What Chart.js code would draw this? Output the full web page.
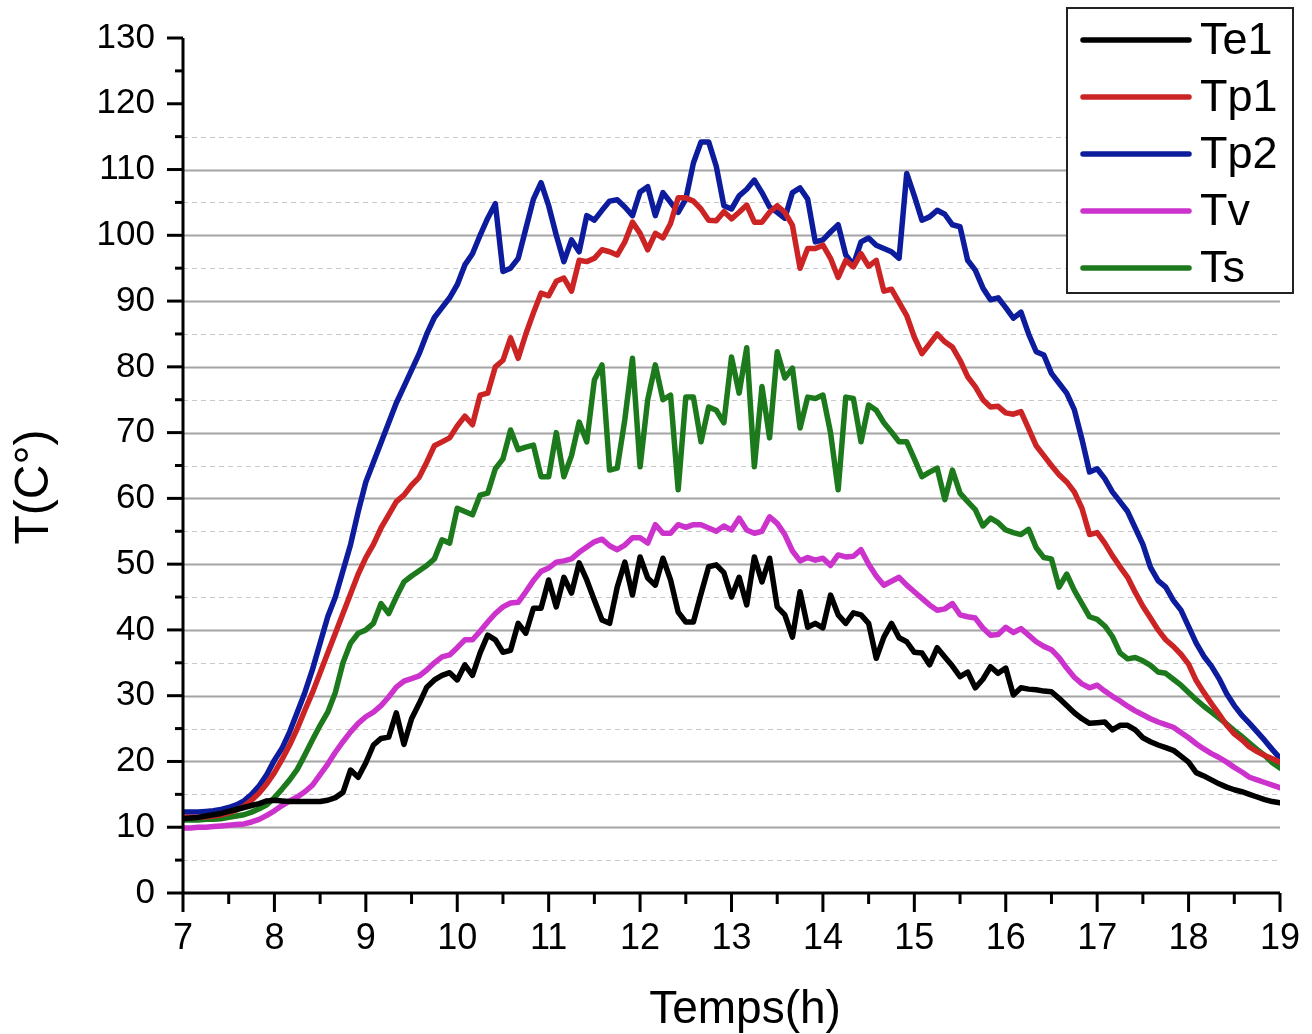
<!DOCTYPE html>
<html>
<head>
<meta charset="utf-8">
<title>T(C°) vs Temps(h)</title>
<script src="https://cdn.jsdelivr.net/npm/chart.js@4.4.1/dist/chart.umd.min.js"></script>
<style>
  html, body { margin: 0; padding: 0; background: #fff; }
  #wrap { width: 1312px; height: 1034px; }
</style>
</head>
<body>
<div id="wrap"><canvas id="tempChart" width="1312" height="1034"></canvas></div>
<script>
// --- Data (one reading every 5 min, 7h -> 19h) ---
const times = [];
for (let m = 0; m <= 720; m += 5) times.push(7 + m / 60);

const te1 = [
  11.3, 11.4, 11.5, 11.7, 11.9, 12.1, 12.4, 12.7, 13.0, 13.3, 13.6, 14.0,
  14.1, 14.0, 13.9, 13.9, 13.9, 13.9, 13.9, 14.1, 14.5, 15.3, 18.7, 17.6,
  19.8, 22.5, 23.5, 23.7, 27.4, 22.6, 26.5, 28.8, 31.3, 32.4, 33.1, 33.5,
  32.4, 34.7, 33.1, 36.5, 39.2, 38.5, 36.6, 36.9, 41.0, 39.5, 43.3, 43.3,
  47.6, 43.5, 48.0, 45.6, 50.2, 47.6, 44.5, 41.5, 41.0, 46.5, 50.3, 45.3,
  51.1, 47.9, 46.8, 50.9, 47.6, 42.7, 41.2, 41.2, 45.5, 49.6, 49.9, 48.7,
  45.0, 48.0, 43.8, 51.1, 47.3, 50.9, 43.5, 42.3, 38.9, 45.8, 40.4, 41.0,
  40.3, 45.3, 42.3, 41.0, 42.6, 42.3, 41.0, 35.7, 38.9, 41.0, 38.8, 38.2,
  36.6, 36.5, 34.7, 37.3, 35.9, 34.5, 32.9, 33.6, 31.2, 32.5, 34.4, 33.4,
  34.2, 30.1, 31.2, 31.0, 30.9, 30.7, 30.6, 29.6, 28.5, 27.4, 26.5, 25.8,
  25.9, 26.0, 24.8, 25.5, 25.5, 24.8, 23.6, 23.0, 22.5, 22.1, 21.7, 20.8,
  19.9, 18.3, 17.8, 17.2, 16.6, 16.1, 15.7, 15.4, 15.0, 14.6, 14.2, 13.9,
  13.7
];

const tp1 = [
  11.5, 11.5, 11.5, 11.6, 11.7, 11.9, 12.2, 12.6, 13.2, 14.1, 15.2, 16.6,
  18.3, 20.3, 22.5, 25.0, 27.8, 30.5, 33.5, 36.5, 39.5, 42.5, 45.5, 48.5,
  51.0, 53.0, 55.5, 57.5, 59.5, 60.5, 62.0, 63.2, 65.5, 68.0, 68.6, 69.2,
  71.0, 72.5, 71.2, 75.7, 76.0, 80.0, 81.0, 84.4, 81.3, 85.0, 88.2, 91.2,
  90.8, 93.0, 93.5, 91.5, 96.2, 96.0, 96.5, 97.8, 97.5, 97.0, 99.0, 102.0,
  100.3, 97.8, 100.3, 99.6, 101.8, 105.7, 105.7, 105.2, 104.0, 102.3, 102.2, 103.6,
  102.5, 103.5, 104.6, 102.0, 102.0, 103.5, 104.5, 103.5, 101.5, 95.0, 98.0, 98.0,
  98.5, 96.5, 93.6, 96.2, 95.2, 97.2, 95.3, 96.2, 91.5, 91.8, 89.8, 87.8,
  84.5, 82.0, 83.5, 85.0, 83.8, 83.0, 81.0, 78.5, 77.0, 75.0, 73.9, 74.0,
  73.0, 72.8, 73.2, 70.6, 68.0, 66.5, 65.0, 63.6, 62.5, 61.0, 58.5, 54.5,
  54.8, 53.2, 51.3, 49.6, 48.0, 45.7, 43.6, 41.8, 40.0, 38.5, 37.5, 36.3,
  34.8, 32.3, 30.5, 28.8, 27.2, 25.5, 24.2, 23.3, 22.2, 21.5, 20.9, 20.4,
  19.9
];

const tp2 = [
  12.3, 12.3, 12.3, 12.4, 12.5, 12.7, 13.0, 13.4, 14.0, 15.0, 16.3, 18.0,
  20.2, 22.0, 24.5, 27.5, 30.5, 34.0, 38.0, 42.0, 45.0, 49.0, 53.0, 58.0,
  62.5, 65.5, 68.5, 71.5, 74.5, 77.0, 79.5, 82.0, 85.0, 87.5, 89.0, 90.5,
  92.5, 95.5, 97.2, 100.0, 102.6, 104.8, 94.5, 95.0, 96.5, 101.0, 105.5, 108.0,
  104.5, 100.0, 96.0, 99.3, 97.5, 103.0, 102.3, 103.8, 105.2, 105.4, 104.3, 103.0,
  106.6, 107.4, 103.0, 106.5, 105.0, 103.5, 105.5, 111.0, 114.2, 114.2, 110.5, 104.5,
  104.0, 106.0, 107.0, 108.4, 106.5, 104.3, 103.5, 102.6, 106.5, 107.2, 105.5, 99.0,
  99.3, 100.5, 101.6, 97.0, 95.5, 99.0, 99.6, 98.5, 98.0, 97.5, 96.5, 109.4,
  106.0, 102.3, 102.8, 103.8, 103.2, 101.6, 101.3, 96.2, 94.7, 92.0, 90.2, 90.5,
  89.0, 87.4, 88.3, 85.0, 82.3, 81.8, 79.0, 77.5, 76.0, 73.5, 69.0, 64.0,
  64.5, 63.0, 61.0, 59.5, 58.0, 55.5, 53.0, 49.5, 47.5, 46.5, 44.5, 43.0,
  40.5, 38.0, 36.0, 34.5, 32.6, 30.3, 28.5, 27.0, 25.8, 24.5, 23.2, 21.8,
  20.5
];

const tv = [
  9.9, 9.9, 10.0, 10.0, 10.1, 10.2, 10.3, 10.4, 10.5, 10.8, 11.2, 11.8,
  12.5, 13.3, 14.0, 14.6, 15.4, 16.4, 18.0, 19.6, 21.4, 23.0, 24.5, 25.8,
  26.8, 27.5, 28.5, 29.8, 31.3, 32.2, 32.6, 33.0, 33.9, 35.0, 35.9, 36.2,
  37.3, 38.5, 38.5, 39.8, 41.2, 42.5, 43.5, 44.1, 44.2, 45.8, 47.5, 48.9,
  49.4, 50.3, 50.5, 50.8, 51.8, 52.6, 53.4, 53.8, 52.8, 52.2, 52.9, 54.0,
  54.0, 53.2, 56.0, 54.7, 54.7, 56.0, 55.6, 56.0, 56.0, 55.5, 55.0, 55.8,
  55.2, 57.0, 55.2, 54.7, 55.0, 57.2, 56.2, 54.5, 52.0, 50.5, 51.0, 50.6,
  50.9, 49.8, 51.4, 51.1, 51.2, 52.2, 50.0, 48.2, 46.8, 47.4, 48.0, 46.8,
  45.8, 44.8, 43.8, 43.0, 43.2, 44.0, 42.3, 42.0, 41.8, 40.3, 39.2, 39.3,
  40.4, 39.6, 40.2, 39.2, 38.2, 37.5, 37.0, 35.8, 34.2, 32.8, 31.8, 31.2,
  31.6, 30.7, 29.9, 29.2, 28.4, 27.7, 27.1, 26.5, 26.0, 25.6, 25.2, 24.4,
  23.6, 22.7, 21.9, 21.2, 20.6, 19.9, 19.1, 18.4, 17.6, 17.2, 16.8, 16.4,
  16.0
];

const ts = [
  11.1, 11.1, 11.1, 11.2, 11.2, 11.3, 11.5, 11.7, 11.9, 12.3, 12.8, 13.4,
  14.5, 15.8, 17.2, 18.8, 21.0, 23.3, 25.5, 27.5, 30.5, 35.0, 38.0, 39.5,
  40.0, 41.0, 44.0, 42.5, 45.0, 47.3, 48.2, 49.0, 49.8, 50.8, 53.7, 53.2,
  58.5, 58.0, 57.5, 60.5, 60.8, 64.5, 66.0, 70.4, 67.4, 67.8, 68.1, 63.3,
  63.3, 70.0, 63.3, 66.5, 71.6, 68.6, 78.0, 80.3, 64.3, 64.6, 72.0, 81.3,
  64.8, 75.0, 80.3, 75.0, 75.7, 61.3, 75.4, 75.4, 68.6, 73.9, 73.4, 71.5,
  81.5, 76.0, 82.9, 64.8, 77.0, 69.2, 82.3, 78.3, 79.8, 70.7, 75.4, 75.2,
  75.7, 70.0, 61.3, 75.4, 75.2, 68.6, 74.2, 73.4, 71.5, 70.1, 68.6, 68.6,
  66.0, 63.3, 64.0, 64.6, 59.8, 64.3, 60.8, 59.5, 58.3, 55.8, 57.0, 56.3,
  55.2, 54.8, 54.5, 55.3, 52.5, 51.0, 50.8, 46.5, 48.5, 46.0, 44.0, 42.0,
  41.6, 40.6, 39.0, 36.5, 35.6, 35.8, 35.3, 34.6, 33.6, 33.4, 32.5, 31.6,
  30.5, 29.4, 28.4, 27.5, 26.6, 25.7, 24.7, 23.8, 22.8, 21.8, 20.9, 19.8,
  19.0
];

const seriesNames = ['Te1', 'Tp1', 'Tp2', 'Tv', 'Ts'];
const seriesColors = ['#000000', '#cc2424', '#0c1c9c', '#cc33cc', '#1c7a1c'];
const seriesValues = [te1, tp1, tp2, tv, ts];

// axis ranges
const xMin = 7, xMax = 19;
const yMin = 0, yMax = 130;
const gridMax = 115; // grid stops below 120

const xTitle = 'Temps(h)';
const yTitle = 'T(C°)';

const FONT = '"Liberation Sans", Arial, sans-serif';

// --- Gridlines, axes, tick marks, axis titles and the boxed legend ---
const framePlugin = {
  id: 'frame',
  beforeDatasetsDraw(chart) {
    const { ctx, chartArea: { left, right }, scales: { y } } = chart;
    ctx.save();
    for (let v = 5; v <= gridMax; v += 5) {
      const py = Math.round(y.getPixelForValue(v)) + 0.5;
      const minor = v % 10 !== 0;
      ctx.strokeStyle = minor ? '#c8c8c8' : '#a4a4a4';
      ctx.lineWidth = minor ? 1 : 1.8;
      ctx.setLineDash(minor ? [5, 4] : []);
      ctx.beginPath();
      ctx.moveTo(left, py);
      ctx.lineTo(right, py);
      ctx.stroke();
    }
    ctx.restore();
  },
  afterDatasetsDraw(chart) {
    const { ctx, chartArea: { left, right, top, bottom }, scales: { x, y } } = chart;
    ctx.save();
    ctx.strokeStyle = '#000';
    ctx.lineWidth = 3;
    ctx.lineCap = 'butt';

    // axis lines
    ctx.beginPath();
    ctx.moveTo(left, top);
    ctx.lineTo(left, bottom + 1.5);
    ctx.moveTo(left - 1.5, bottom);
    ctx.lineTo(right, bottom);
    ctx.stroke();

    // y ticks (major every 10, minor every 5)
    for (let v = yMin; v <= yMax; v += 5) {
      const py = y.getPixelForValue(v);
      const len = v % 10 === 0 ? 16 : 8;
      ctx.beginPath();
      ctx.moveTo(left - len, py);
      ctx.lineTo(left, py);
      ctx.stroke();
    }
    // x ticks (major every hour, minor every half hour)
    for (let t = xMin; t <= xMax; t += 0.5) {
      const px = x.getPixelForValue(t);
      const len = Number.isInteger(t) ? 19 : 11;
      ctx.beginPath();
      ctx.moveTo(px, bottom);
      ctx.lineTo(px, bottom + len);
      ctx.stroke();
    }

    // axis titles (placed like the original figure, a bit off-centre)
    ctx.fillStyle = '#000';
    ctx.textAlign = 'center';
    ctx.textBaseline = 'middle';
    ctx.font = '46px ' + FONT;
    ctx.fillText(xTitle, 745, 1010);
    ctx.translate(35, 487);
    ctx.rotate(-Math.PI / 2);
    ctx.font = '48px ' + FONT;
    ctx.fillText(yTitle, 0, 0);
    ctx.restore();
  },
  afterDraw(chart) {
    const { ctx } = chart;
    const box = { x: 1067, y: 8, w: 226, h: 285 };
    ctx.save();
    ctx.fillStyle = '#fff';
    ctx.fillRect(box.x, box.y, box.w, box.h);
    ctx.strokeStyle = '#222';
    ctx.lineWidth = 2;
    ctx.strokeRect(box.x, box.y, box.w, box.h);

    ctx.font = '45px ' + FONT;
    ctx.textBaseline = 'middle';
    ctx.textAlign = 'left';
    chart.data.datasets.forEach((ds, i) => {
      const rowY = 40 + i * 57;
      ctx.strokeStyle = ds.borderColor;
      ctx.lineWidth = 5.5;
      ctx.lineCap = 'round';
      ctx.beginPath();
      ctx.moveTo(1083, rowY);
      ctx.lineTo(1189, rowY);
      ctx.stroke();
      ctx.fillStyle = '#000';
      ctx.fillText(ds.label, 1200, rowY + 2);
    });
    ctx.restore();
  }
};

function initChart() {
  const ctx = document.getElementById('tempChart').getContext('2d');

  const datasets = seriesNames.map((name, i) => ({
    label: name,
    data: times.map((t, k) => ({ x: t, y: seriesValues[i][k] })),
    borderColor: seriesColors[i],
    backgroundColor: seriesColors[i],
    borderWidth: 5.5,
    borderJoinStyle: 'round',
    borderCapStyle: 'round',
    pointRadius: 0,
    tension: 0,
    fill: false
  }));

  new Chart(ctx, {
    type: 'line',
    data: { datasets },
    plugins: [framePlugin],
    options: {
      responsive: false,
      animation: false,
      devicePixelRatio: 1,
      layout: { padding: { left: 0, right: 32, top: 38, bottom: 0 } },
      plugins: {
        legend: { display: false },
        tooltip: { enabled: false }
      },
      scales: {
        x: {
          type: 'linear',
          min: xMin,
          max: xMax,
          afterFit: (scale) => {
            scale.height = 141;
            scale.paddingLeft = 0;
            scale.paddingRight = 0;
          },
          grid: { display: false, drawTicks: false },
          border: { display: false },
          ticks: {
            stepSize: 1,
            padding: 24,
            color: '#000',
            font: { family: FONT, size: 36 },
            maxRotation: 0
          }
        },
        y: {
          type: 'linear',
          min: yMin,
          max: yMax,
          afterFit: (scale) => {
            scale.width = 183;
            scale.paddingTop = 0;
            scale.paddingBottom = 0;
          },
          grid: { display: false, drawTicks: false },
          border: { display: false },
          ticks: {
            stepSize: 10,
            padding: 28,
            color: '#000',
            font: { family: FONT, size: 35 }
          }
        }
      }
    }
  });
}

document.addEventListener('DOMContentLoaded', initChart);
</script>
</body>
</html>
